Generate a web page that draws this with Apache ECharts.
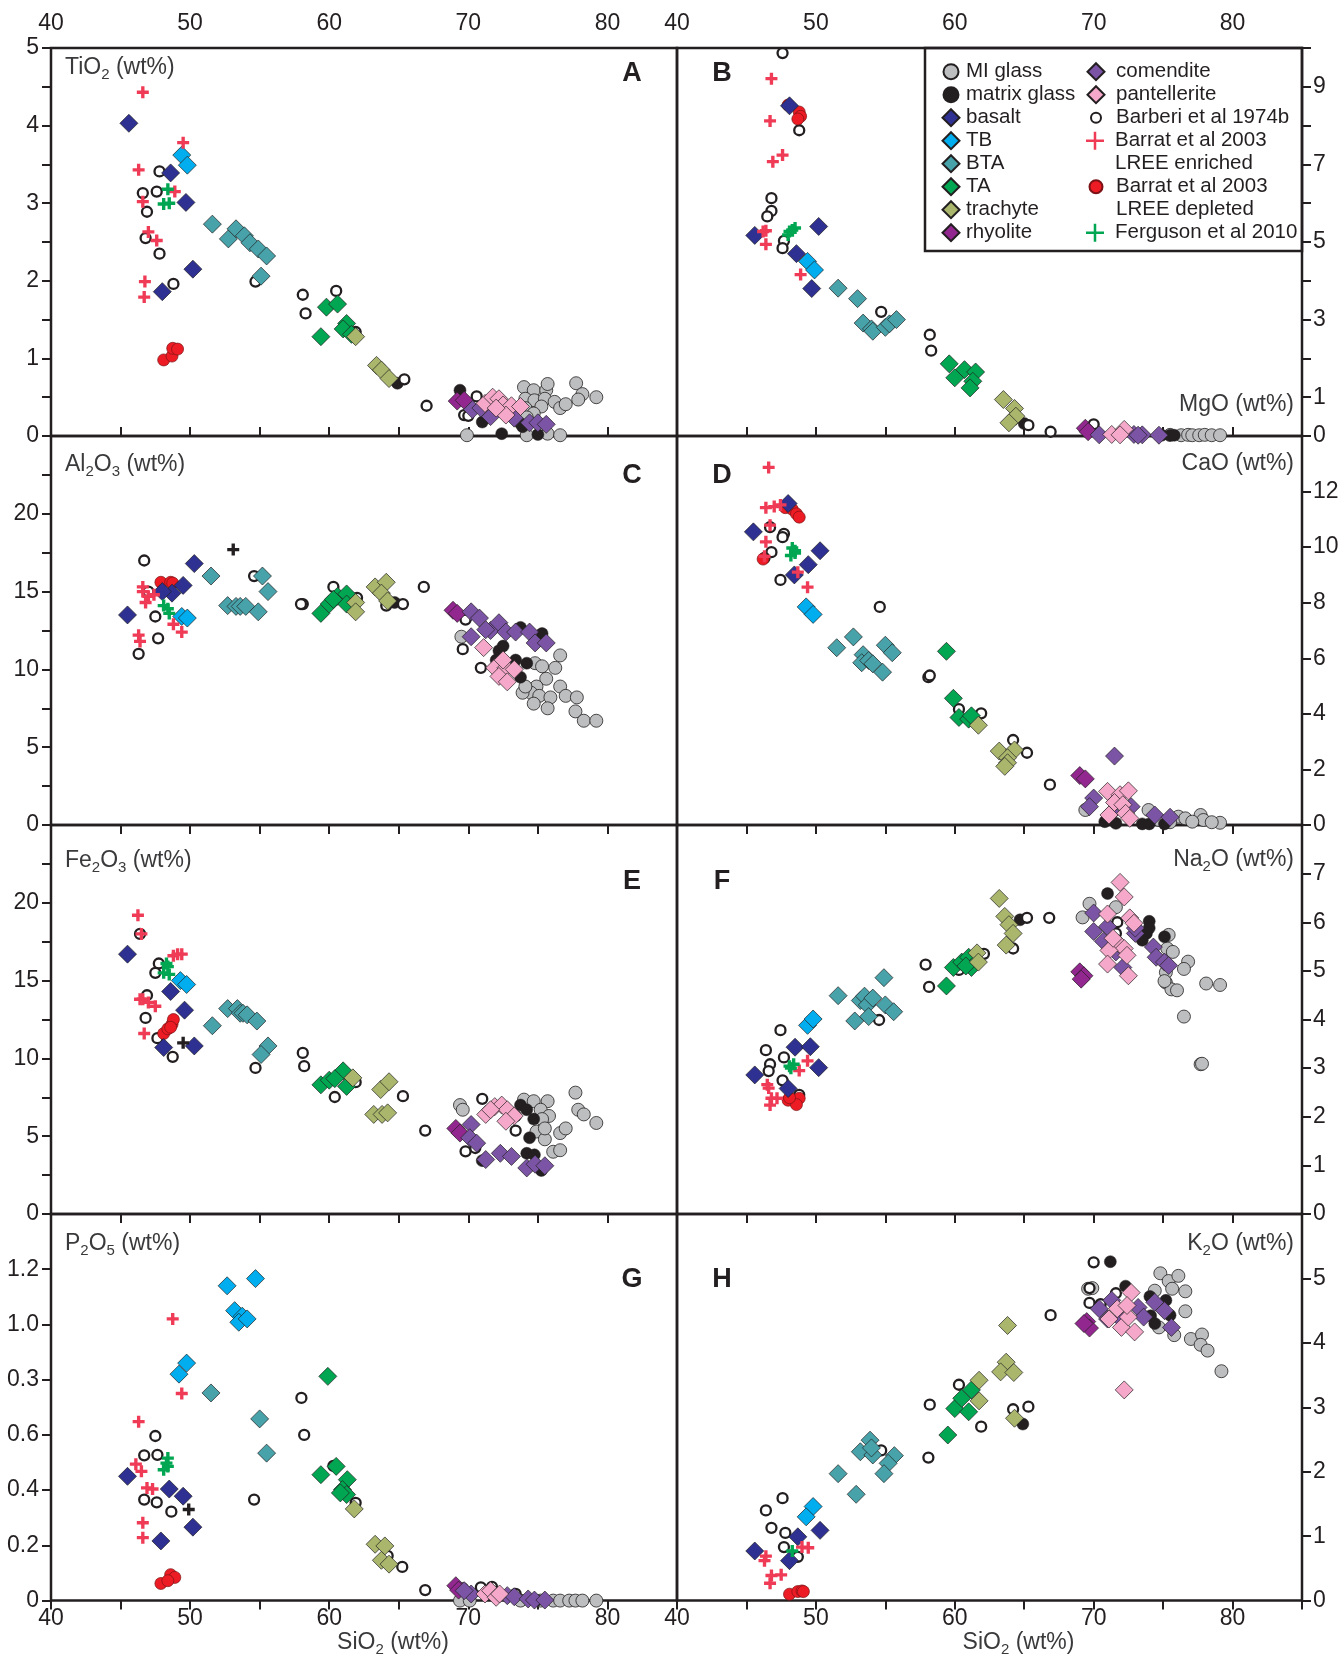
<!DOCTYPE html>
<html>
<head>
<meta charset="utf-8">
<script src="https://cdn.jsdelivr.net/npm/echarts@6/dist/echarts.min.js"></script>
<style>
  html, body { margin: 0; padding: 0; background: #fff; }
  #chart { width: 1343px; height: 1658px; }
</style>
</head>
<body>
<div id="chart"></div>
<script>
// panels in order A..H : TiO2, MgO, Al2O3, CaO, Fe2O3, Na2O, P2O5, K2O  (x = SiO2 wt%)
const miGlass = [
  [[74.0,0.63],[74.7,0.59],[75.6,0.59],[75.7,0.67],[74.1,0.48],[74.75,0.46],[75.5,0.48],[74.1,0.36],[75.25,0.38],[76.2,0.44],[76.6,0.36],[77.0,0.41],[77.75,0.68],[78.2,0.54],[77.9,0.47],[79.2,0.5],[69.9,0.01],[74.2,0.01],[75.7,0.03],[76.6,0.01],[74.7,0.29],[74.2,0.24]],
  [[75.5,0.03],[76.3,0.02],[76.8,0.03],[77.1,0.02],[77.6,0.02],[78.0,0.03],[78.5,0.02],[79.1,0.02]],
  [[69.5,12.1],[74.8,10.4],[75.3,10.2],[76.25,10.1],[76.6,10.9],[75.6,9.4],[74.9,8.9],[74.5,8.5],[75.1,8.3],[75.9,8.2],[75.7,7.5],[76.6,8.9],[77.0,8.3],[77.8,8.2],[77.7,7.3],[78.3,6.7],[79.2,6.7],[73.9,8.5],[74.7,7.8],[74.1,8.9]],
  [[69.4,0.54],[73.95,0.54],[76.1,0.3],[76.6,0.24],[77.7,0.36],[77.9,0.18],[79.1,0.08],[77.1,0.12],[74.7,0.18],[75.5,0.1],[78.5,0.1]],
  [[69.4,7.0],[69.6,6.7],[74.0,7.35],[74.7,7.25],[75.7,7.25],[75.2,6.7],[75.8,6.3],[75.3,6.1],[74.9,5.3],[75.5,4.8],[76.6,5.2],[77.0,5.5],[76.1,4.0],[76.6,4.1],[77.7,7.8],[77.9,6.7],[78.3,6.4],[79.2,5.85],[75.5,5.5]],
  [[69.7,6.38],[69.2,6.1],[75.4,5.74],[75.3,5.46],[75.7,5.39],[76.8,5.19],[76.5,5.04],[75.2,4.97],[75.2,4.76],[75.6,4.62],[76.0,4.6],[78.1,4.74],[79.1,4.71],[76.5,4.06],[77.7,3.08],[77.8,3.09],[71.6,6.31],[75.1,4.79]],
  [[69.4,0],[70.1,0],[73.75,0],[75.2,0],[76.1,0],[76.6,0],[77.25,0],[77.7,0],[78.2,0],[79.2,0]],
  [[69.6,4.84],[69.9,4.85],[74.8,5.08],[75.4,4.96],[76.1,5.04],[75.65,4.84],[76.6,4.8],[76.6,4.49],[74.4,4.81],[77.0,4.06],[77.8,4.13],[77.7,3.97],[78.2,3.88],[79.2,3.56],[74.7,4.24],[75.8,4.12]]
];
const matrixGlass = [
  [[64.9,0.68],[69.4,0.59],[71.0,0.18],[72.4,0.03],[73.9,0.12],[75.0,0.02],[73.75,0.16]],
  [[65.0,0.32],[74.9,0.02],[75.5,0.02],[75.8,0.02]],
  [[64.7,14.3],[73.75,12.7],[75.3,12.3],[72.2,11.2],[72.0,10.6],[73.4,10.6],[74.2,10.4],[73.75,9.5],[72.5,11.5]],
  [[70.8,0.12],[73.5,0.04],[74.0,0.04],[75.1,0.04],[71.6,0.06]],
  [[71.0,3.43],[73.75,7.0],[74.2,6.7],[73.4,6.3],[74.4,4.9],[74.2,3.9],[74.75,3.8],[75.25,2.8],[74.7,6.1]],
  [[64.7,6.05],[71.0,6.59],[74.0,6.02],[74.0,5.88],[73.8,5.77],[73.5,5.63],[75.1,5.7]],
  [[74.9,0.0]],
  [[64.9,2.74],[71.2,5.26],[72.3,4.88],[74.05,4.72],[75.2,4.66],[74.1,4.42],[74.4,4.3],[75.5,4.43]]
];
const barberi = [
  [[47.8,3.41],[46.6,3.13],[47.6,3.15],[46.9,2.89],[46.8,2.55],[47.8,2.35],[48.8,1.96],[54.7,1.99],[58.1,1.82],[58.3,1.58],[60.5,1.87],[61.9,1.34],[65.4,0.73],[67.0,0.39],[70.6,0.51],[69.7,0.27],[70.0,0.26]],
  [[47.6,9.87],[48.8,7.88],[46.8,6.13],[46.8,5.8],[46.5,5.66],[47.7,5.03],[47.6,4.84],[54.7,3.2],[58.2,2.61],[58.3,2.2],[65.3,0.28],[66.9,0.11],[70.0,0.3]],
  [[46.7,17.0],[46.3,11.0],[47.5,13.4],[47.7,12.0],[54.6,16.0],[58.1,14.2],[57.97,14.2],[60.3,15.3],[62.0,14.6],[64.1,14.1],[65.3,14.2],[66.8,15.3],[69.8,13.2],[69.6,11.3],[70.9,10.1],[47.0,15.0]],
  [[46.7,10.72],[47.7,10.48],[47.6,10.36],[46.8,9.82],[46.3,9.61],[47.45,8.82],[54.6,7.85],[58.1,5.32],[58.2,5.38],[60.3,4.17],[61.9,4.02],[64.2,3.06],[65.2,2.6],[66.85,1.45]],
  [[46.4,18.0],[47.75,16.1],[47.5,15.5],[46.9,14.06],[46.8,12.6],[47.65,11.3],[48.75,10.1],[54.7,9.39],[58.1,10.35],[58.2,9.5],[60.4,7.52],[61.9,8.47],[65.3,7.57],[66.9,5.36],[71.0,7.4],[69.8,4.03],[70.5,4.24],[73.4,5.36]],
  [[47.45,3.78],[46.4,3.37],[46.7,3.08],[46.6,2.94],[47.7,3.22],[47.6,2.75],[48.8,2.45],[54.55,3.99],[57.9,5.13],[58.15,4.67],[60.3,5.02],[62.1,5.35],[64.2,5.46],[65.2,6.09],[66.8,6.09],[71.7,6.0],[71.6,5.77]],
  [[58.0,0.734],[58.2,0.6],[47.5,0.596],[46.7,0.526],[47.65,0.528],[46.7,0.366],[47.6,0.356],[48.65,0.322],[54.6,0.366],[60.3,0.488],[61.9,0.354],[64.2,0.162],[65.25,0.122],[66.9,0.038],[69.6,0.044],[70.9,0.048],[71.7,0.05],[73.4,0.024]],
  [[47.6,1.59],[46.4,1.4],[46.8,1.13],[47.8,1.05],[47.7,0.83],[48.7,0.68],[54.7,2.33],[58.1,2.22],[58.2,3.04],[60.3,3.35],[61.9,2.7],[64.2,2.97],[65.3,3.01],[66.9,4.43],[70.0,5.25],[69.7,4.85],[69.7,4.62],[70.5,4.6],[71.6,4.77]]
];
const barratDepleted = [
  [[48.1,0.98],[48.7,1.03],[48.75,1.13],[49.1,1.12]],
  [[48.0,8.53],[48.8,8.35],[48.9,8.24],[48.7,8.17]],
  [[47.9,15.6],[48.6,15.6],[48.75,15.55]],
  [[47.8,11.42],[48.3,11.36],[48.6,11.2],[48.8,11.08],[46.2,9.57]],
  [[48.1,11.6],[48.4,11.9],[48.7,12.2],[48.8,12.5],[48.6,12.0]],
  [[48.0,2.34],[48.8,2.38],[48.6,2.25],[48.1,2.39]],
  [[47.9,0.062],[48.6,0.094],[48.9,0.084],[48.4,0.072]],
  [[48.1,0.1],[48.7,0.14],[49.0,0.15],[49.1,0.14]]
];
const basalt = [
  [[45.6,4.03],[48.6,3.39],[49.7,3.01],[50.2,2.15],[48.0,1.86]],
  [[45.6,5.17],[48.1,8.51],[50.2,5.4],[48.6,4.7],[49.7,3.8]],
  [[45.5,13.5],[50.3,16.8],[49.5,15.4],[48.7,14.9],[48.0,15.0]],
  [[45.5,10.55],[48.0,11.57],[50.3,9.87],[49.45,9.37],[48.45,9.0]],
  [[45.5,16.7],[48.6,14.3],[49.6,13.1],[48.1,10.7],[50.3,10.8]],
  [[45.6,2.86],[48.5,3.43],[49.6,3.44],[50.2,3.01],[48.0,2.58]],
  [[45.5,0.45],[48.5,0.404],[49.5,0.378],[50.2,0.266],[47.9,0.216]],
  [[45.6,0.77],[48.7,0.99],[50.3,1.09],[48.1,0.62]]
];
const tb = [
  [[49.4,3.62],[49.8,3.49]],
  [[49.4,4.5],[49.9,4.28]],
  [[49.4,13.4],[49.8,13.3]],
  [[49.3,7.85],[49.8,7.58]],
  [[49.3,15.0],[49.75,14.75]],
  [[49.4,3.88],[49.8,4.01]],
  [[52.66,1.14],[54.7,1.166],[53.2,1.05],[53.75,1.03],[53.5,1.008],[54.1,1.02],[49.75,0.86],[49.2,0.82]],
  [[49.8,1.46],[49.3,1.3]]
];
const bta = [
  [[51.6,2.73],[52.75,2.54],[53.3,2.67],[53.9,2.58],[54.3,2.49],[54.9,2.41],[55.5,2.32],[55.1,2.06]],
  [[51.6,3.81],[53.0,3.54],[53.4,2.91],[54.0,2.76],[54.1,2.7],[55.0,2.8],[55.3,2.89],[55.8,3.0]],
  [[51.5,16.0],[55.2,16.0],[55.6,15.0],[52.7,14.1],[53.3,14.05],[53.6,14.05],[54.0,14.05],[54.9,13.7]],
  [[51.5,6.38],[52.7,6.77],[53.4,6.13],[53.3,5.84],[53.8,5.92],[54.1,5.8],[54.8,5.5],[55.0,6.47],[55.5,6.2]],
  [[51.6,12.1],[52.7,13.2],[53.4,13.2],[53.6,12.9],[53.8,12.9],[54.1,12.8],[54.8,12.4],[55.6,10.8],[55.1,10.25]],
  [[51.6,4.49],[54.9,4.86],[52.8,3.97],[53.2,4.39],[53.5,4.48],[53.7,4.3],[54.1,4.44],[53.8,4.06],[55.0,4.3],[55.6,4.16]],
  [[51.5,0.752],[55.0,0.658],[55.5,0.534]],
  [[51.6,1.97],[52.9,1.65],[53.9,2.49],[53.2,2.31],[54.1,2.26],[54.0,2.37],[55.65,2.25],[55.2,2.13],[54.9,1.97]]
];
const ta = [
  [[59.8,1.66],[60.6,1.7],[61.25,1.45],[61.0,1.38],[61.6,1.31],[59.4,1.28]],
  [[59.6,1.86],[60.7,1.71],[61.5,1.65],[60.0,1.5],[61.3,1.41],[61.1,1.24]],
  [[59.4,13.6],[60.0,14.2],[60.6,14.7],[61.25,14.85],[61.25,14.2],[60.3,14.5]],
  [[59.4,6.25],[59.9,4.56],[60.3,3.87],[61.0,3.81],[61.2,3.93]],
  [[59.4,8.3],[60.0,8.6],[61.0,9.2],[61.25,8.2],[60.4,8.7]],
  [[59.4,4.69],[59.9,5.07],[60.5,5.18],[61.0,5.28],[61.2,5.07],[60.8,5.1]],
  [[59.9,0.812],[60.5,0.486],[59.4,0.456],[61.3,0.438],[60.95,0.402],[61.25,0.384],[60.8,0.39]],
  [[59.5,2.57],[60.0,2.98],[60.5,3.14],[61.2,3.27],[61.0,2.93]]
];
const trachyte = [
  [[61.9,1.28],[63.4,0.91],[63.75,0.85],[64.3,0.74]],
  [[63.5,0.94],[64.3,0.71],[64.4,0.51],[63.9,0.34]],
  [[61.9,14.3],[63.3,15.3],[64.1,15.6],[63.75,14.9],[64.2,14.4],[61.9,13.7]],
  [[61.7,3.59],[63.2,2.66],[64.3,2.7],[63.8,2.42],[63.8,2.24],[63.6,2.11]],
  [[61.7,8.75],[63.7,8.0],[64.3,8.5],[63.2,6.4],[63.8,6.4],[64.2,6.5]],
  [[63.2,6.49],[63.6,6.12],[63.9,5.95],[64.2,5.77],[63.7,5.53],[61.6,5.37],[61.7,5.18]],
  [[61.8,0.332],[63.3,0.204],[64.0,0.198],[63.75,0.146],[64.3,0.132]],
  [[61.75,3.42],[61.75,3.1],[63.8,4.27],[63.7,3.7],[63.3,3.55],[64.25,3.54],[64.3,2.83]]
];
const rhyolite = [
  [[69.2,0.45],[69.7,0.46]],
  [[69.4,0.2],[69.6,0.11]],
  [[68.9,13.8],[69.2,13.6]],
  [[69.0,1.78],[69.4,1.66]],
  [[69.1,5.5],[69.4,5.2]],
  [[69.0,4.98],[69.3,4.9],[69.1,4.83]],
  [[69.1,0.054],[69.3,0.038]],
  [[69.5,4.33],[69.7,4.23],[69.3,4.3]]
];
const comendite = [
  [[70.3,0.34],[71.6,0.25],[73.3,0.23],[74.4,0.17],[75.0,0.17],[75.6,0.15],[70.9,0.36]],
  [[70.4,0.03],[72.9,0.04],[73.5,0.03],[74.7,0.02],[73.2,0.02]],
  [[70.2,13.7],[70.8,13.3],[70.2,12.1],[71.6,12.5],[72.2,13.0],[72.7,12.4],[73.4,12.4],[74.4,12.4],[74.8,11.7],[75.6,11.7],[71.25,12.55]],
  [[71.5,2.48],[70.0,0.97],[69.7,0.66],[71.3,0.45],[74.4,0.36],[75.5,0.28],[72.7,0.66]],
  [[70.2,5.75],[70.1,4.9],[70.6,4.55],[71.25,3.5],[72.3,3.9],[73.1,3.7],[74.2,2.96],[74.8,3.2],[75.5,3.1]],
  [[70.0,6.19],[70.0,5.81],[70.7,5.61],[71.0,5.91],[71.6,5.39],[72.1,5.07],[73.0,5.77],[74.3,5.49],[74.5,5.28],[75.1,5.18],[75.4,5.11],[73.0,5.88]],
  [[70.2,0.024],[72.8,0.018],[73.3,0.014],[74.3,0.006],[74.75,0.002],[75.5,0.002],[69.7,0.036]],
  [[70.4,4.53],[71.3,4.66],[71.95,4.37],[73.2,4.55],[74.4,4.63],[75.1,4.5],[75.6,4.24],[71.0,4.37],[73.6,4.4]]
];
const pantellerite = [
  [[71.2,0.42],[71.75,0.5],[72.2,0.48],[72.5,0.4],[73.1,0.39],[73.75,0.38],[72.7,0.27],[72.0,0.36]],
  [[71.3,0.04],[72.2,0.17],[71.9,0.03]],
  [[71.1,11.4],[71.9,10.1],[72.7,10.1],[72.2,9.55],[72.8,9.2],[73.3,10.0],[72.5,10.6]],
  [[71.0,1.21],[71.9,1.09],[72.5,1.23],[71.5,0.81],[72.1,0.73],[72.3,0.42],[71.1,0.36],[72.6,0.24]],
  [[71.25,6.4],[71.9,6.9],[72.4,7.0],[72.8,6.7],[73.3,6.3],[72.7,5.96],[71.6,6.7]],
  [[71.9,6.82],[72.2,6.52],[71.0,6.17],[72.6,6.09],[71.8,5.56],[72.2,5.46],[72.4,5.32],[71.1,5.42],[71.0,5.14],[72.5,4.9],[71.4,5.67],[72.9,5.98]],
  [[71.2,0.024],[71.6,0.036],[72.0,0.012],[72.25,0.024]],
  [[72.7,4.78],[71.7,4.53],[71.1,4.37],[72.0,4.24],[72.95,4.17],[72.5,4.4],[72.2,3.27],[72.4,4.58]]
];
const barratEnriched = [
  [[46.6,4.43],[46.3,3.43],[46.6,3.02],[47.0,2.63],[47.6,2.52],[46.75,1.99],[46.7,1.79],[49.5,3.78],[48.9,3.15]],
  [[46.8,9.21],[46.7,8.12],[46.9,7.07],[47.6,7.24],[46.4,5.29],[46.2,5.27],[46.4,4.94],[48.9,4.16]],
  [[46.6,15.3],[47.0,14.7],[46.8,14.3],[47.4,14.8],[46.3,12.2],[46.4,11.8],[48.8,12.9],[49.4,12.4],[46.6,15.0]],
  [[46.6,12.87],[46.4,11.42],[47.0,11.46],[47.45,11.52],[46.7,10.79],[46.4,10.19],[46.3,9.67],[48.7,9.1],[49.4,8.56]],
  [[46.25,19.2],[46.5,18.0],[49.1,16.7],[49.4,16.7],[48.8,16.6],[46.6,13.8],[47.0,13.6],[47.5,13.35],[46.7,11.6],[46.4,13.8]],
  [[46.5,2.66],[46.6,2.59],[46.8,2.38],[47.2,2.38],[46.7,2.24],[49.4,3.15],[48.8,2.95]],
  [[48.75,1.02],[49.4,0.75],[46.3,0.648],[46.1,0.494],[46.5,0.468],[46.9,0.408],[47.3,0.404],[46.6,0.282],[46.6,0.228]],
  [[46.4,0.69],[46.3,0.62],[46.8,0.39],[47.5,0.4],[46.7,0.27],[49.0,0.83],[49.45,0.82]]
];
const ferguson = [
  [[48.4,3.18],[48.1,2.99],[48.5,3.0]],
  [[48.1,5.27],[48.5,5.36],[48.3,5.31],[48.0,5.18]],
  [[48.4,13.9],[48.1,14.1],[48.5,13.6]],
  [[48.3,9.97],[48.5,9.79],[48.2,9.7],[48.5,9.87]],
  [[48.4,15.9],[48.1,15.5],[48.5,15.4],[48.3,16.1]],
  [[48.1,3.04],[48.4,3.08],[48.2,3.0]],
  [[48.4,0.516],[48.4,0.486],[48.1,0.474],[48.3,0.498]],
  [[48.3,0.77]]
];
// unlabelled black crosses
const otherCross = [[], [], [[53.1,17.7]], [], [[49.5,11.0]], [], [[49.9,0.33]], []];

const xTickLabels = ['40', '', '50', '', '60', '', '70', '', '80', ''];
const yMax = [5, 10, 25, 14, 25, 8, 1.4, 6];
const yStep = [0.5, 1, 2.5, 2, 2.5, 1, 0.2, 1];
const yTickLabels = [
  ['0', '', '1', '', '2', '', '3', '', '4', '', '5'],
  ['0', '1', '', '3', '', '5', '', '7', '', '9', ''],
  ['0', '', '5', '', '10', '', '15', '', '20', '', ''],
  ['0', '2', '4', '6', '8', '10', '12', ''],
  ['0', '', '5', '', '10', '', '15', '', '20', '', ''],
  ['0', '1', '2', '3', '4', '5', '6', '7', ''],
  ['0', '0.2', '0.4', '0.6', '0.3', '1.0', '1.2', ''],
  ['0', '1', '2', '3', '4', '5', '']
];
const oxideLabels = [
  '{t|TiO}{s|2}{t| (wt%)}', '{t|MgO (wt%)}',
  '{t|Al}{s|2}{t|O}{s|3}{t| (wt%)}', '{t|CaO (wt%)}',
  '{t|Fe}{s|2}{t|O}{s|3}{t| (wt%)}', '{t|Na}{s|2}{t|O (wt%)}',
  '{t|P}{s|2}{t|O}{s|5}{t| (wt%)}', '{t|K}{s|2}{t|O (wt%)}'
];
const panelLetters = ['A', 'B', 'C', 'D', 'E', 'F', 'G', 'H'];

const ink = '#231f20';
const font = "'Liberation Sans', Arial, sans-serif";
const plusPath = 'path://M3.6,0H6.4V3.6H10V6.4H6.4V10H3.6V6.4H0V3.6H3.6Z';
const thinPlus = 'path://M4.3,0H5.7V4.3H10V5.7H5.7V10H4.3V5.7H0V4.3H4.3Z';

const colLeft = [51, 677];
const colWidth = [626, 625];
const rowTop = [48, 436, 825, 1214];
const rowHeight = [388, 389, 389, 388];
// oxide label anchor y, letter anchor y per row
const labelY = [[68, 405], [465, 464], [861, 860], [1244, 1244]];
const letterY = [74, 476, 882, 1280];

const kinds = [
  { name: 'MI glass', data: miGlass, symbol: 'circle', size: 13, color: '#bcbec0', border: ink, bw: 0.8 },
  { name: 'matrix glass', data: matrixGlass, symbol: 'circle', size: 12, color: ink, border: ink, bw: 0.5 },
  { name: 'Barberi et al 1974b', data: barberi, symbol: 'circle', size: 10, color: '#ffffff', border: ink, bw: 2.3 },
  { name: 'Barrat et al 2003 LREE depleted', data: barratDepleted, symbol: 'circle', size: 12, color: '#ed1c24', border: '#7a1216', bw: 0.7 },
  { name: 'basalt', data: basalt, symbol: 'diamond', size: 18, color: '#2e3192', border: ink, bw: 0.7 },
  { name: 'TB', data: tb, symbol: 'diamond', size: 18, color: '#00aeef', border: ink, bw: 0.7 },
  { name: 'BTA', data: bta, symbol: 'diamond', size: 18, color: '#47a2aa', border: ink, bw: 0.7 },
  { name: 'TA', data: ta, symbol: 'diamond', size: 18, color: '#00a651', border: ink, bw: 0.7 },
  { name: 'trachyte', data: trachyte, symbol: 'diamond', size: 18, color: '#a9b66c', border: ink, bw: 0.7 },
  { name: 'rhyolite', data: rhyolite, symbol: 'diamond', size: 18, color: '#92278f', border: ink, bw: 0.7 },
  { name: 'comendite', data: comendite, symbol: 'diamond', size: 18, color: '#7b54a6', border: ink, bw: 0.7 },
  { name: 'pantellerite', data: pantellerite, symbol: 'diamond', size: 18, color: '#f5a8c9', border: ink, bw: 0.7 },
  { name: 'Barrat et al 2003 LREE enriched', data: barratEnriched, symbol: plusPath, size: 12, color: '#ef3b56', border: 'transparent', bw: 0 },
  { name: 'Ferguson et al 2010', data: ferguson, symbol: plusPath, size: 12, color: '#00a651', border: 'transparent', bw: 0 },
  { name: 'other', data: otherCross, symbol: plusPath, size: 12, color: ink, border: 'transparent', bw: 0 }
];

const legendLayout = [
  { name: 'MI glass', col: 0, row: 0, icon: 15 },
  { name: 'matrix glass', col: 0, row: 1, icon: 15 },
  { name: 'basalt', col: 0, row: 2, icon: 17 },
  { name: 'TB', col: 0, row: 3, icon: 17 },
  { name: 'BTA', col: 0, row: 4, icon: 17 },
  { name: 'TA', col: 0, row: 5, icon: 17 },
  { name: 'trachyte', col: 0, row: 6, icon: 17 },
  { name: 'rhyolite', col: 0, row: 7, icon: 17 },
  { name: 'comendite', col: 1, row: 0, icon: 17 },
  { name: 'pantellerite', col: 1, row: 1, icon: 17 },
  { name: 'Barberi et al 1974b', col: 1, row: 2, icon: 10 },
  { name: 'Barrat et al 2003 LREE enriched', col: 1, row: 3, icon: 18, plus: true, text: ' \nBarrat et al 2003\nLREE enriched' },
  { name: 'Barrat et al 2003 LREE depleted', col: 1, row: 5, icon: 13, text: ' \nBarrat et al 2003\nLREE depleted' },
  { name: 'Ferguson et al 2010', col: 1, row: 7, icon: 18, plus: true }
];

const chart = echarts.init(document.getElementById('chart'), null, { renderer: 'canvas' });

const grids = [];
const xAxes = [];
const yAxes = [];
const topX = [];
const graphics = [];

const richLabel = {
  t: { fontSize: 23, lineHeight: 28, color: '#3a3a3c', fill: '#3a3a3c', fontFamily: font },
  s: { fontSize: 15, lineHeight: 13, verticalAlign: 'bottom', color: '#3a3a3c', fill: '#3a3a3c', fontFamily: font }
};

for (let i = 0; i < 8; i++) {
  const row = Math.floor(i / 2);
  const col = i % 2;
  grids.push({
    left: colLeft[col], top: rowTop[row], width: colWidth[col], height: rowHeight[row],
    show: true, borderColor: ink, borderWidth: 2.5, backgroundColor: 'transparent'
  });

  topX.push(xAxes.length);
  xAxes.push({
    gridIndex: i, type: 'value', min: 40, max: 85, interval: 5, position: 'top',
    axisLine: { show: false }, splitLine: { show: false },
    axisTick: { show: true, inside: row > 0, length: 9, lineStyle: { color: ink, width: 2 } },
    axisLabel: {
      show: row === 0, margin: 13, color: ink, fontSize: 23, fontFamily: font,
      formatter: (v) => xTickLabels[Math.round((v - 40) / 5)] || ''
    }
  });
  if (row === 3) {
    xAxes.push({
      gridIndex: i, type: 'value', min: 40, max: 85, interval: 5, position: 'bottom',
      axisLine: { show: false }, splitLine: { show: false },
      axisTick: { show: true, inside: false, length: 9, lineStyle: { color: ink, width: 2 } },
      axisLabel: {
        margin: 7, color: ink, fontSize: 23, fontFamily: font,
        formatter: (v) => xTickLabels[Math.round((v - 40) / 5)] || ''
      },
      name: '{t|SiO}{s|2}{t| (wt%)}', nameLocation: 'middle', nameGap: 27,
      nameTextStyle: { padding: [0, 0, 0, 58], rich: richLabel }
    });
  }

  yAxes.push({
    gridIndex: i, type: 'value', min: 0, max: yMax[i], interval: yStep[i],
    position: col === 0 ? 'left' : 'right',
    axisLine: { show: false }, splitLine: { show: false },
    axisTick: { show: true, length: 9, lineStyle: { color: ink, width: 2 } },
    axisLabel: {
      margin: col === 0 ? 12 : 11, color: ink, fontSize: 23, fontFamily: font,
      formatter: (v) => yTickLabels[i][Math.round(v / yStep[i])] || ''
    }
  });

  graphics.push({
    type: 'text', z: 10,
    x: col === 0 ? 65 : 1294, y: labelY[row][col],
    style: {
      text: oxideLabels[i], rich: richLabel,
      align: col === 0 ? 'left' : 'right', verticalAlign: 'middle'
    }
  });
  graphics.push({
    type: 'text', z: 10,
    x: col === 0 ? 632 : 722, y: letterY[row],
    style: {
      text: panelLetters[i], fill: ink, font: "bold 27px 'Liberation Sans', Arial, sans-serif",
      align: 'center', verticalAlign: 'middle'
    }
  });
}

// legend frame
graphics.push({
  type: 'rect', z: 10,
  shape: { x: 925, y: 48, width: 377, height: 203 },
  style: { fill: 'none', stroke: ink, lineWidth: 2.5 }
});

const series = [];
kinds.forEach((k) => {
  for (let i = 0; i < 8; i++) {
    series.push({
      type: 'scatter', name: k.name, xAxisIndex: topX[i], yAxisIndex: i,
      data: k.data[i], symbol: k.symbol, symbolSize: k.size, clip: false,
      itemStyle: { color: k.color, borderColor: k.border, borderWidth: k.bw, opacity: 1 },
      emphasis: { disabled: true }
    });
  }
});

const legendIconX = [950, 1095];
const legendTextX = [965, 1115];
const legends = legendLayout.map((item) => {
  const s = item.icon;
  const centerY = 71.7 + 23 * item.row;
  const gap = legendTextX[item.col] - (legendIconX[item.col] + s / 2 + 5);
  const entry = { name: item.name };
  if (item.plus) entry.icon = thinPlus;
  return {
    data: [entry], orient: 'vertical', selectedMode: false, padding: 0,
    left: legendIconX[item.col] - s / 2,
    top: centerY - (item.text ? 34.5 : 11.5),
    itemWidth: s, itemHeight: s, itemGap: 0,
    formatter: () => item.text || item.name,
    textStyle: { fontSize: 20.5, lineHeight: 23, color: ink, fontFamily: font, padding: [0, 0, 0, Math.max(gap, 0)] }
  };
});

chart.setOption({
  animation: false,
  backgroundColor: '#ffffff',
  grid: grids,
  xAxis: xAxes,
  yAxis: yAxes,
  legend: legends,
  graphic: graphics,
  series: series
});
</script>
</body>
</html>
